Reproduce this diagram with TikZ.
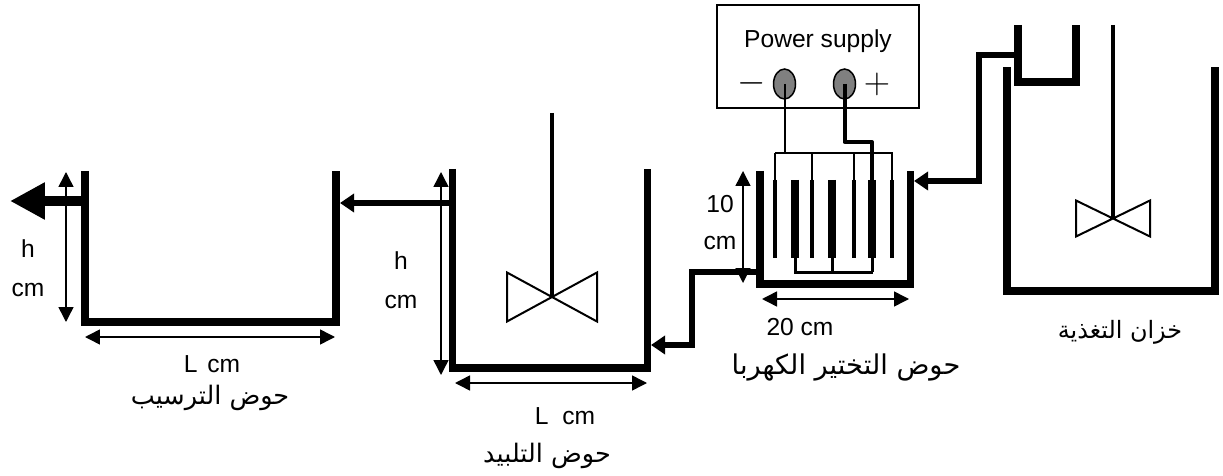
\documentclass[tikz,border=0pt]{standalone}
\usepackage{fontspec}
\setmainfont{Liberation Sans}
\newfontfamily\arabicfont[Script=Arabic]{DejaVu Sans}
\usepackage{tikz}
\usetikzlibrary{arrows.meta,shapes}
\TeXXeTstate=1
\tikzset{
	wall/.style={line width=.155cm,line join=miter},
	pipe/.style={line width=.11cm,line join=miter},
	blade/.style={line width=.04cm,line join=miter},
	dim/.style={line width=.03cm,{Triangle[length=.3cm,width=.3cm]}-{Triangle[length=.3cm,width=.3cm]}},
	feed/.style={pipe,-{Triangle[length=.28cm,width=.36cm]}},
	label/.style={inner sep=0pt,font=\fontsize{14}{16}\selectfont},
	sign/.style={inner sep=0pt,font=\fontsize{21}{21}\selectfont},
	arlabel/.style={inner sep=0pt,font=\fontsize{14.5}{17}\selectfont\arabicfont},
	terminal/.style={ellipse,draw,line width=.03cm,fill=gray,minimum width=.44cm,minimum height=.6cm,inner sep=0pt},
}
\begin{document}
\begin{tikzpicture}[x=.02cm,y=-.02cm]
	\useasboundingbox (0,0) rectangle (1223,476);
	% tanks
	\foreach \l/\t/\r/\b in {85/171/336/322,452.5/169/647.5/368,760/171/910.5/284,1007/67/1215/291,1018/25/1076/82}
	\draw[wall] (\l,\t) -- (\l,\b) -- (\r,\b) -- (\r,\t);
	% mixers
	\foreach \x/\y/\w/\h/\s in {552/297/45/24.5/113,1113/218.5/37/18/25} {
		\draw[line width=.07cm] (\x,\s) -- (\x,\y);
		\draw[blade] (\x-\w,\y-\h) -- (\x+\w,\y+\h) -- (\x+\w,\y-\h) -- (\x-\w,\y+\h) -- cycle;
	}
	% electrodes
	\foreach \x in {775,812,854,892} {
		\draw[line width=.08cm] (\x,180) -- (\x,258);
		\draw[line width=.03cm] (\x,153) -- (\x,180);
	}
	\foreach \x in {795,832,872} {
		\draw[line width=.16cm] (\x,180) -- (\x,258);
		\draw[line width=.06cm] (\x,258) -- (\x,272);
	}
	\draw[line width=.03cm] (775,153) -- (892.5,153);
	\draw[line width=.06cm] (794,272) -- (873,272);
	% power supply
	\node[draw,line width=.03cm,minimum width=4.04cm,minimum height=2.06cm] (psu) at (818,56.5) {};
	\node[label] (psutext) at (818,41) {Power supply};
	\node[terminal] (neg) at (784.5,84) {};
	\node[terminal] (pos) at (844.5,84) {};
	\node[sign] (minus) at (752,83) {$-$};
	\node[sign] (plus) at (877,84) {$+$};
	\coordinate (negbus) at (784.5,153);
	\coordinate (posup) at (844.5,142);
	\coordinate (posdn) at (872,142);
	\coordinate (posel) at (872,180);
	\draw[line width=.04cm] (neg.center) -- (negbus);
	\draw[line width=.08cm,line join=round] (pos.center) -- (posup) -- (posdn) -- (posel);
	% pipes
	\coordinate (outA) at (81,201);
	\coordinate (outB) at (10,201);
	\coordinate (setin) at (340,203);
	\coordinate (setout) at (449,203);
	\coordinate (floin) at (651,345);
	\coordinate (floa) at (692,345);
	\coordinate (flob) at (692,272);
	\coordinate (floc) at (757,272);
	\coordinate (ecin) at (914,181);
	\coordinate (eca) at (979,181);
	\coordinate (ecb) at (979,55);
	\coordinate (ecc) at (1016,55);
	\draw[line width=.22cm,-{Triangle[length=.7cm,width=.7cm]}] (outA) -- (outB);
	\draw[feed] (setout) -- (setin);
	\draw[feed] (floc) -- (flob) -- (floa) -- (floin);
	\draw[feed] (ecc) -- (ecb) -- (eca) -- (ecin);
	% dimensions
	\coordinate (hAt) at (66,172);
	\coordinate (hAb) at (66,322);
	\coordinate (lAl) at (85,337);
	\coordinate (lAr) at (335,337);
	\coordinate (hBt) at (441,172);
	\coordinate (hBb) at (441,375);
	\coordinate (lBl) at (455,383);
	\coordinate (lBr) at (647,383);
	\coordinate (hCt) at (743,171);
	\coordinate (hCb) at (743,283);
	\coordinate (lCl) at (762,299);
	\coordinate (lCr) at (909,299);
	\foreach \a/\b in {hAt/hAb,lAl/lAr,hBt/hBb,lBl/lBr,hCt/hCb,lCl/lCr}
	\draw[dim] (\a) -- (\b);
	% labels
	\node[label] (hA) at (28,249) {h};
	\node[label] (cmA) at (28,290) {cm};
	\node[label] (lenA) at (212,364) {L\hspace{.4em}cm};
	\node[label] (hB) at (401,261) {h};
	\node[label] (cmB) at (401,302) {cm};
	\node[label] (lenB) at (565,416) {L\ \ cm};
	\node[label] (tenC) at (720,204) {10};
	\node[label] (cmC) at (720,243) {cm};
	\node[label] (lenC) at (800,327) {20 cm};
	\node[arlabel] (setname) at (210,398) {\beginR حوض الترسيب\endR};
	\node[arlabel] (floname) at (547,456) {\beginR حوض التلبيد\endR};
	\node[arlabel,font=\fontsize{15.5}{18}\selectfont\arabicfont] (ecname) at (846,367) {\beginR حوض التختير الكهربا\endR};
	\node[arlabel,font=\fontsize{13.6}{16}\selectfont\arabicfont] (feedname) at (1120,332) {\beginR خزان التغذية\endR};
\end{tikzpicture}
\end{document}
